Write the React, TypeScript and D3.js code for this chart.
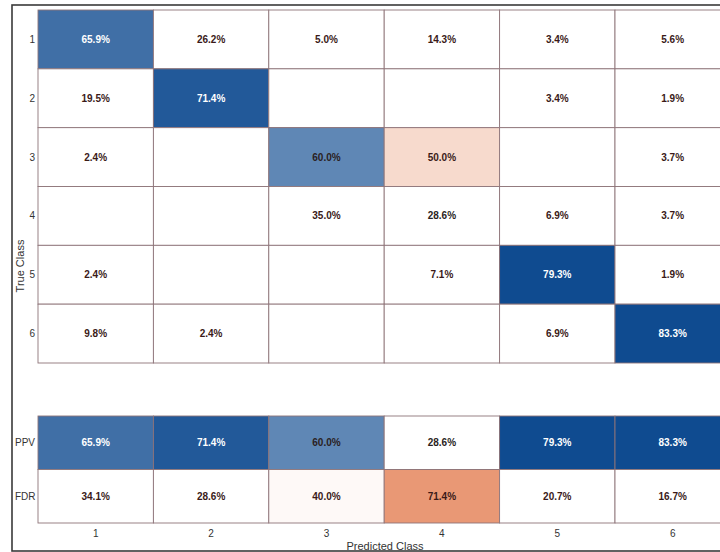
import * as d3 from 'd3'

// confusion matrix, column-normalized (%), null = empty cell
const classes = ['1', '2', '3', '4', '5', '6']
const row1 = [65.9, 26.2, 5.0, 14.3, 3.4, 5.6]
const row2 = [19.5, 71.4, null, null, 3.4, 1.9]
const row3 = [2.4, null, 60.0, 50.0, null, 3.7]
const row4 = [null, null, 35.0, 28.6, 6.9, 3.7]
const row5 = [2.4, null, null, 7.1, 79.3, 1.9]
const row6 = [9.8, 2.4, null, null, 6.9, 83.3]
const matrix = [row1, row2, row3, row4, row5, row6]
const summaryLabels = ['PPV', 'FDR']
const ppv = [65.9, 71.4, 60.0, 28.6, 79.3, 83.3]
const fdr = [34.1, 28.6, 40.0, 71.4, 20.7, 16.7]

const W = 720
const H = 552
const FONT = 'Arial, "Liberation Sans", sans-serif'

const blue = d3.interpolateRgb('#ffffff', '#0f4b90')
const orange = d3.interpolateRgb('#ffffff', '#dc5a22')

function cellStyle(v: number, diag: boolean) {
  if (diag) {
    const t = Math.max(0, Math.min(1, (v - 30) / 45))
    return { fill: blue(t), text: t > 0.75 ? '#ffffff' : '#2a1e22' }
  }
  const t = Math.max(0, Math.min(1, (v - 38) / 40)) * 0.75
  return { fill: orange(t), text: '#3a1a18' }
}

export default function App() {
  const x = d3.scaleBand<string>().domain(classes).range([38, 38 + 6 * 115.4])
  const y = d3.scaleBand<string>().domain(classes).range([10, 363])
  const ys = d3.scaleBand<string>().domain(summaryLabels).range([416, 523])
  const gridColor = '#8e7479'

  const cells: { cx: string; ry: number; h: number; v: number | null; diag: boolean }[] = []
  matrix.forEach((row, i) =>
    row.forEach((v, j) => {
      cells.push({ cx: classes[j], ry: y(classes[i]) || 0, h: y.bandwidth(), v, diag: i === j })
    })
  )
  ppv.forEach((v, j) =>
    cells.push({ cx: classes[j], ry: ys('PPV') || 0, h: ys.bandwidth(), v, diag: true })
  )
  fdr.forEach((v, j) =>
    cells.push({ cx: classes[j], ry: ys('FDR') || 0, h: ys.bandwidth(), v, diag: false })
  )

  return (
    <svg
      width={W}
      height={H}
      style={{ position: 'absolute', left: 0, top: 0, display: 'block', background: '#fff' }}
      fontFamily={FONT}
    >
      {/* figure frame */}
      <rect x={12} y={5} width={W} height={546} fill="none" stroke="#3a3a3a" strokeWidth={1.6} />

      {cells.map((c, k) => {
        const s = c.v == null ? { fill: '#ffffff', text: '#000' } : cellStyle(c.v, c.diag)
        const cx = x(c.cx) || 0
        return (
          <g key={k}>
            <rect
              x={cx}
              y={c.ry}
              width={x.bandwidth()}
              height={c.h}
              fill={s.fill}
              stroke={gridColor}
              strokeWidth={0.9}
            />
            {c.v != null && (
              <text
                x={cx + x.bandwidth() / 2}
                y={c.ry + c.h / 2}
                dy="0.35em"
                textAnchor="middle"
                fontSize={10}
                fontWeight="bold"
                fill={s.text}
              >
                {c.v.toFixed(1)}%
              </text>
            )}
          </g>
        )
      })}

      {/* row labels */}
      {classes.map((c) => (
        <text
          key={'r' + c}
          x={35}
          y={(y(c) || 0) + y.bandwidth() / 2}
          dy="0.35em"
          textAnchor="end"
          fontSize={10}
          fill="#333"
        >
          {c}
        </text>
      ))}
      {summaryLabels.map((c) => (
        <text
          key={'s' + c}
          x={15}
          y={(ys(c) || 0) + ys.bandwidth() / 2}
          dy="0.35em"
          fontSize={10}
          fill="#333"
        >
          {c}
        </text>
      ))}

      {/* column labels */}
      {classes.map((c) => (
        <text
          key={'c' + c}
          x={(x(c) || 0) + x.bandwidth() / 2}
          y={533}
          dy="0.35em"
          textAnchor="middle"
          fontSize={10}
          fill="#333"
        >
          {c}
        </text>
      ))}

      <text x={385} y={546} dy="0.35em" textAnchor="middle" fontSize={11} fill="#333">
        Predicted Class
      </text>
      <text
        transform="translate(20,266) rotate(-90)"
        dy="0.35em"
        textAnchor="middle"
        fontSize={11}
        fill="#333"
      >
        True Class
      </text>
    </svg>
  )
}
